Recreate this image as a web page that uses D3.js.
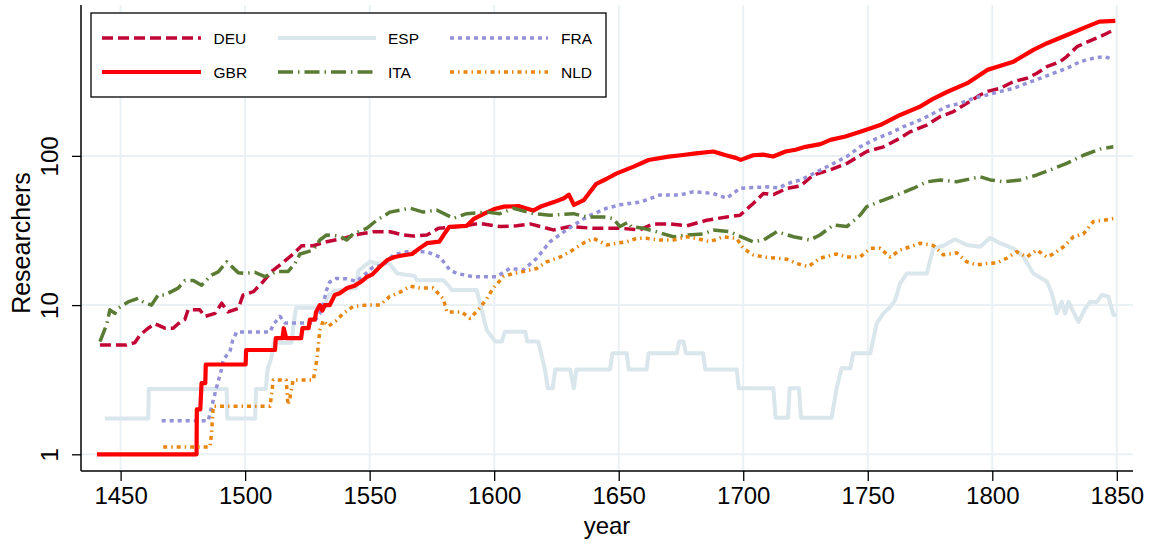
<!DOCTYPE html>
<html><head><meta charset="utf-8">
<script src="https://cdn.jsdelivr.net/npm/d3@7"></script>
<style>
html,body{margin:0;padding:0;background:#fff;}
text{font-family:"Liberation Sans",Arial,Helvetica,sans-serif;fill:#000;}
</style></head>
<body><svg id="chart" width="1153" height="546"></svg>
<script>
const xTicks = [1450,1500,1550,1600,1650,1700,1750,1800,1850];
const yTicks = [1,10,100];
const seriesNames = ["DEU","ESP","FRA","GBR","ITA","NLD"];

const DEU = [[1441.7,5.4],[1452.4,5.4],[1455.7,5.6],[1457.8,6.3],[1461.1,7],[1463.8,7.5],[1467.8,7],[1471.1,7],[1473.1,7.5],[1475.8,8],[1477.1,9.3],[1481.8,9.3],[1483.9,8.4],[1487.9,8.8],[1490.6,10.3],[1493.2,9],[1497.2,9.5],[1499.2,11.7],[1503.3,12.3],[1507.3,14.4],[1510.6,16.8],[1514.7,19],[1519.3,22],[1522.7,25],[1527.4,25],[1532.7,26.6],[1539.4,28],[1546.1,30],[1551.4,31],[1558.2,31],[1563.5,29.5],[1567.5,29],[1573,29.5],[1577.6,32.7],[1586.3,33.6],[1594.3,35.3],[1602.3,33.6],[1609,34],[1614.4,35],[1623.7,31.9],[1630.4,33.6],[1639.8,32.7],[1650.5,32.7],[1658.5,32],[1663.9,35],[1670.6,35],[1677.3,34],[1685.3,37],[1693.4,39],[1698.7,40],[1704,48],[1708.1,56],[1712.1,55],[1717.5,60.6],[1723,63],[1728.2,74.5],[1734.9,80.5],[1741.6,89],[1749.6,107],[1756.3,115],[1761.7,128],[1767,145],[1773.7,161],[1779,183],[1784.4,198],[1789.8,225],[1795.1,256],[1797.8,270],[1803.2,284],[1808.5,315],[1813.9,331],[1817.9,358],[1821.9,396],[1827.2,428],[1829.9,463],[1834,539],[1840.6,604],[1844.7,646],[1848.7,698]];

const ESP = [[1443.7,1.74],[1461.1,1.74],[1461.3,2.74],[1492.6,2.74],[1492.8,1.74],[1504,1.74],[1504.4,2.74],[1508.3,2.74],[1509,3.7],[1510.6,4.5],[1511.5,5.6],[1518.7,5.6],[1519.5,7.6],[1520.5,9.6],[1532,9.6],[1533,11.4],[1536,12.5],[1544.5,13],[1545.5,17],[1550,19.5],[1553,19],[1558,19],[1561,16.3],[1568,15.7],[1569,14.7],[1579.5,14.7],[1582,13.3],[1583,12.6],[1593,12.6],[1597,6.8],[1600.4,5.7],[1603.1,5.7],[1604.3,6.64],[1612.5,6.64],[1613.2,5.7],[1617.7,5.7],[1620.4,3.7],[1621.5,2.77],[1623.5,2.77],[1624.5,3.7],[1630.5,3.7],[1632,2.77],[1633,3.7],[1646.5,3.7],[1647.5,4.75],[1653.2,4.75],[1654,3.7],[1661.2,3.7],[1662,4.75],[1673.3,4.75],[1674.3,5.7],[1676,5.7],[1677,4.75],[1683.9,4.75],[1684.8,3.7],[1697.4,3.7],[1698.2,2.77],[1712.1,2.77],[1713,1.76],[1718,1.76],[1718.6,2.77],[1722.4,2.77],[1723.2,1.76],[1735.5,1.76],[1737.5,2.77],[1739.5,3.77],[1743,3.77],[1744.2,4.75],[1751,4.75],[1753.6,7.55],[1756.3,8.8],[1759,9.7],[1761,10.8],[1763,14],[1765.7,16.3],[1773.7,16.3],[1776.3,24],[1780.4,25],[1785,27.6],[1789.8,25.3],[1795.1,24.6],[1799.2,28.3],[1803.1,26],[1808.5,24],[1812.5,21],[1816.5,16.3],[1821.9,14.4],[1823.9,12],[1825.9,8.8],[1827.9,10.5],[1829.2,8.8],[1830.6,10.5],[1834.6,7.7],[1837.3,9.5],[1839.3,10.5],[1842,10.5],[1844,11.7],[1846.6,11.4],[1848.6,8.6],[1850,8.6]];

const FRA = [[1466.5,1.68],[1485.2,1.68],[1487.2,2.3],[1488.5,2.8],[1490.5,3.7],[1491.2,4.3],[1493.9,4.9],[1495,5.8],[1496.6,6.6],[1510,6.6],[1511.3,7.4],[1514,8.4],[1516,7.6],[1527.4,7.6],[1530,8.8],[1531.4,10.3],[1532.7,12.6],[1534,14.3],[1536.7,15.1],[1540.8,15],[1544.8,14.4],[1551.4,18],[1555.5,18.6],[1559.5,21.7],[1564.9,22.8],[1573,22.8],[1578.2,21],[1582.2,17.2],[1585,16.3],[1591.6,15.5],[1601,15.5],[1606.3,17.6],[1611.7,17.2],[1617.1,20.6],[1622.4,26.6],[1629.1,31.9],[1637.1,39],[1645.2,44.6],[1650.5,47],[1658.6,49],[1666.6,54.7],[1674.6,54.7],[1680,57.5],[1688,56],[1693.4,52],[1698.7,60.7],[1709.4,62],[1714,61],[1718.8,66],[1723,69],[1728.2,76],[1736.2,89],[1741.6,99],[1746.9,115],[1753.6,131],[1759,142],[1764.3,157],[1771,174],[1776.4,193],[1781.7,214],[1787.1,225],[1792.4,243],[1797.8,256],[1803.2,270],[1808.5,284],[1813.9,307],[1819.2,331],[1824.6,358],[1829.9,386],[1835.3,428],[1840.6,451],[1844.7,463],[1847.3,451]];

const GBR = [[1440.5,1],[1480.5,1],[1480.6,2],[1482,2],[1482.5,3],[1484,3],[1484.2,4],[1500.2,4],[1500.4,5],[1512,5],[1512.3,6],[1515,6],[1515.5,7],[1516.5,6],[1522.5,6],[1523,7],[1525.5,7],[1526,8],[1528,8],[1528.5,9],[1530,10],[1531,9.2],[1532,10],[1534,10],[1536,11.7],[1538,12],[1541,13],[1544,13.5],[1547,14.5],[1549,15.5],[1551,16],[1554,18],[1557,20],[1560,21],[1563,21.5],[1567,22],[1570,24],[1573,26],[1578,26.6],[1580,30],[1582,33.5],[1589,34],[1592,38],[1596,41],[1600,44],[1604,45.7],[1610,46],[1615.7,43],[1619,46],[1624,49],[1628,52],[1630,55],[1632,47],[1636,50.6],[1641,65],[1645,70],[1649,76],[1656,84.7],[1662,93.8],[1670,98.8],[1675,101],[1681,104],[1688,107],[1693,101],[1697,97],[1699,94],[1704,101],[1708,102],[1712,99],[1717,107],[1721,110],[1725,115],[1731,120],[1735,128],[1741,135],[1747,145],[1755,161],[1763,188],[1771,214],[1776,240],[1782,269],[1790,307],[1798,377],[1803,400],[1808.5,428],[1816.5,513],[1822,569],[1830,646],[1838,735],[1843,794],[1849.4,802]];

const ITA = [[1441.7,5.7],[1444.4,7.4],[1445.7,9.3],[1447.7,8.8],[1449,9.5],[1453,10.5],[1457.1,11.1],[1459.1,10.5],[1462.4,10],[1465.1,11.7],[1467.8,11.7],[1473.1,13],[1475.8,14.6],[1479.2,14.6],[1482.5,13.6],[1486.5,15.9],[1489.2,16.7],[1492.6,19.5],[1497.2,16.5],[1499.9,16.3],[1503.9,16.6],[1507.9,15.5],[1512.6,16.8],[1517.3,16.8],[1520,19],[1522,22],[1527.4,23.4],[1530,27.3],[1532.7,29.5],[1538,29],[1540.8,27.3],[1543.4,30],[1548.8,32.7],[1552.8,37],[1558.2,42],[1566.2,44.6],[1571.5,42],[1576.9,43.4],[1583.6,38.2],[1589,41],[1597,42],[1602.3,41],[1607.7,44.6],[1615.7,41],[1622.4,40],[1631.8,41],[1637.1,39],[1643.8,39],[1647.8,38],[1650.5,33.6],[1653.8,36],[1655,33.6],[1659.9,32.7],[1665.2,31],[1671.9,28.7],[1677.3,29.5],[1684,30],[1688,31.9],[1694.7,31],[1697.4,29.5],[1704,26.6],[1708.1,27.3],[1713.5,31],[1720.2,28.7],[1726.8,27.3],[1730.8,29.5],[1736.2,34.4],[1741.6,33.6],[1746.9,40],[1749.6,45.7],[1756.3,50.6],[1761.7,54.7],[1768.4,60.7],[1773.7,67],[1779.1,69],[1785.7,67],[1795.1,72.5],[1799.2,69],[1804.5,67],[1811.2,69],[1817.9,74.5],[1823.2,80.5],[1829.9,89],[1836.6,101],[1843.3,111],[1848.6,115]];

const NLD = [[1467.1,1.12],[1485.9,1.12],[1486.5,1.38],[1487.2,2.1],[1510,2.1],[1510.6,2.5],[1511.3,3.15],[1516.5,3.15],[1517.2,2.14],[1518,2.4],[1519.3,3.15],[1527.4,3.15],[1528.8,4.3],[1530,6.8],[1531.4,7.9],[1533.4,7.2],[1536.7,7.9],[1539.4,8.8],[1543.4,9.8],[1548.8,10],[1554.1,10],[1558,11.4],[1562.2,12.2],[1566.2,13.4],[1570.2,13],[1575.5,13],[1579.6,11],[1581,9],[1587,9],[1590.3,8.15],[1593.6,9.3],[1597,11],[1599.6,13],[1603.7,15.5],[1607.7,16.3],[1611.7,16.8],[1617.1,17.6],[1621.1,19.5],[1626.5,21],[1630.5,22.8],[1635.8,26],[1639.8,28],[1645.2,25.3],[1649.2,26],[1653.2,26.6],[1657.2,28],[1661.2,28],[1666.6,27.3],[1671.9,27.3],[1677.3,28.7],[1682.6,27.6],[1686.6,26.6],[1692,28.7],[1697.4,28],[1700,24],[1704,21.7],[1708.1,21],[1713.5,20.6],[1717.5,20.3],[1721.5,19],[1726.1,18.1],[1730.8,20.6],[1737.5,22],[1741.6,21],[1746.9,21],[1751,24],[1755,24],[1759,21],[1763,23.4],[1767,24.6],[1771,26],[1776.3,25.1],[1780.4,21.7],[1785.7,22.4],[1789.8,19.5],[1793.8,18.6],[1797.8,19],[1801.8,19.2],[1805.8,20.6],[1809.8,22.8],[1813.8,21],[1817.9,23.4],[1821.9,21],[1824.5,22],[1828.6,24.6],[1832.6,28.7],[1836.6,30],[1840.6,36.3],[1844.6,37],[1848.6,38]];

const seriesData = {DEU, ESP, FRA, GBR, ITA, NLD};
const styles = {
  DEU:{color:"#c10534", width:3.5, dash:"11,5"},
  ESP:{color:"#d9e6eb", width:4, dash:null},
  FRA:{color:"#9591d8", width:3.5, dash:"4,4"},
  GBR:{color:"#ff0000", width:4.2, dash:null},
  ITA:{color:"#5a7b33", width:3.5, dash:"15,5,1.5,5"},
  NLD:{color:"#e8850e", width:3.5, dash:"4,4,1.5,4"}
};

const svg = d3.select("#chart");
const L=81, R=1133, T=5, B=471;
const x = d3.scaleLinear().domain([1434.1,1856.5]).range([L,R]);
const y = d3.scaleLog().domain([0.773,1026]).range([B,T]);

// gridlines
const grid = svg.append("g");
grid.selectAll("line.v").data(xTicks).join("line")
  .attr("x1",d=>x(d)).attr("x2",d=>x(d)).attr("y1",T).attr("y2",B)
  .attr("stroke","#eaf1f4").attr("stroke-width",2);
grid.selectAll("line.h").data(yTicks).join("line")
  .attr("x1",L).attr("x2",R).attr("y1",d=>y(d)).attr("y2",d=>y(d))
  .attr("stroke","#eaf1f4").attr("stroke-width",2);

// lines
const line = d3.line().x(d=>x(d[0])).y(d=>y(d[1]));
seriesNames.forEach(n=>{
  const s = styles[n];
  svg.append("path").datum(seriesData[n])
    .attr("d",line).attr("fill","none")
    .attr("stroke",s.color).attr("stroke-width",s.width)
    .attr("stroke-dasharray",s.dash).attr("stroke-linejoin","round");
});

// axes
const xAxis = svg.append("g").attr("transform",`translate(0,${B})`)
  .call(d3.axisBottom(x).tickValues(xTicks).tickFormat(d3.format("d")).tickSize(10).tickPadding(6).tickSizeOuter(0));
xAxis.select(".domain").attr("d",`M${L},0H${R}`).attr("stroke","#000").attr("stroke-width",1.5);
xAxis.selectAll(".tick line").attr("stroke","#000").attr("stroke-width",1.3);
xAxis.selectAll(".tick text").attr("font-size",24).attr("font-family","Liberation Sans, Arial, sans-serif");

const yAxis = svg.append("g").attr("transform",`translate(${L},0)`)
  .call(d3.axisLeft(y).tickValues(yTicks).tickFormat(d3.format("d")).tickSize(9).tickSizeOuter(0));
yAxis.select(".domain").attr("d",`M0,${T}V${B}`).attr("stroke","#000").attr("stroke-width",1.5);
yAxis.selectAll(".tick line").attr("stroke","#000").attr("stroke-width",1.3);
yAxis.selectAll(".tick text").attr("x",0).attr("dy",0).attr("y",0)
  .attr("transform","translate(-23,0) rotate(-90)")
  .attr("text-anchor","middle").attr("font-size",24).attr("font-family","Liberation Sans, Arial, sans-serif");

// axis titles
svg.append("text").attr("x",(L+R)/2).attr("y",534).attr("text-anchor","middle")
  .attr("font-size",24).text("year");
svg.append("text").attr("transform",`translate(30,${(T+B)/2+5}) rotate(-90)`)
  .attr("text-anchor","middle").attr("font-size",25).text("Researchers");

// legend (row-major: DEU ESP FRA / GBR ITA NLD)
const leg = svg.append("g");
leg.append("rect").attr("x",91).attr("y",13).attr("width",515).attr("height",84)
  .attr("fill","#fff").attr("stroke","#000").attr("stroke-width",1.3);
const cols = [[102,201,213.5],[278,376,388],[450,548,561]];
const rows = [38,72];
seriesNames.forEach((n,i)=>{
  const c = cols[i%3], r = rows[Math.floor(i/3)], s = styles[n];
  leg.append("line").attr("x1",c[0]).attr("x2",c[1]).attr("y1",r).attr("y2",r)
    .attr("stroke",s.color).attr("stroke-width",s.width).attr("stroke-dasharray",s.dash);
  leg.append("text").attr("x",c[2]).attr("y",r).attr("dy","0.36em")
    .attr("font-size",15.5).text(n);
});
</script></body></html>
